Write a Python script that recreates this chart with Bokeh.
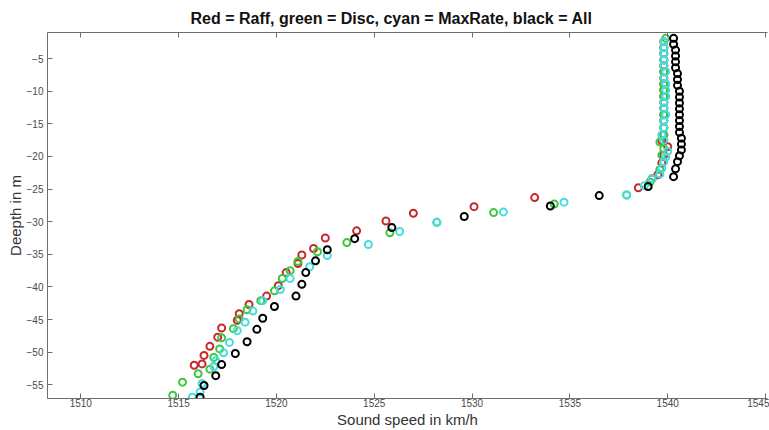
from bokeh.plotting import figure
from bokeh.models import Range1d, LinearAxis, FixedTicker
from bokeh.embed import file_html
from bokeh.resources import INLINE

# ---- data ----
x_ticks = [1510, 1515, 1520, 1525, 1530, 1535, 1540, 1545]
y_ticks = [-55, -50, -45, -40, -35, -30, -25, -20, -15, -10, -5]

raff_speed = [1539.8, 1539.8, 1539.8, 1539.8, 1539.8, 1539.8, 1539.8, 1539.8,
              1539.8, 1539.8, 1539.8, 1539.8, 1539.8, 1539.8, 1539.8, 1539.8,
              1539.7, 1540.0, 1539.8, 1539.7, 1539.5, 1539.2, 1538.5,
              1533.2, 1530.1, 1527.0, 1525.6, 1524.1, 1522.5, 1521.9, 1521.3,
              1521.1, 1520.5, 1520.1, 1519.5, 1518.6, 1518.1, 1518.0, 1517.2,
              1517.0, 1516.6, 1516.3, 1516.2, 1515.8]
raff_depth = [-2.4, -3.3, -4.2, -5.2, -6.1, -7.0, -8.0, -8.9,
              -9.8, -10.8, -11.7, -12.6, -13.6, -14.5, -15.6, -16.7,
              -17.6, -18.5, -19.8, -21.0, -22.8, -23.4, -24.8,
              -26.3, -27.7, -28.7, -29.9, -31.4, -32.5, -34.1, -35.1,
              -36.4, -37.8, -39.8, -41.4, -42.7, -44.1, -45.1, -46.3,
              -47.7, -49.1, -50.5, -51.8, -52.0]

disc_speed = [1539.9, 1539.8, 1539.8, 1539.8, 1539.8, 1539.8, 1539.8, 1539.8,
              1539.8, 1539.8, 1539.8, 1539.8, 1539.8, 1539.8, 1539.8, 1539.8,
              1539.6, 1539.8, 1539.7, 1539.6, 1539.1, 1537.9,
              1534.2, 1531.1, 1528.2, 1525.8, 1523.6, 1522.1, 1521.1, 1520.7,
              1520.3, 1519.9, 1519.2, 1518.5, 1518.1, 1517.8, 1517.2, 1517.1,
              1516.8, 1516.6, 1516.0, 1515.2, 1514.7]
disc_depth = [-1.9, -3.3, -4.2, -5.2, -6.1, -7.0, -8.0, -8.9,
              -9.8, -10.8, -11.7, -12.6, -13.6, -14.5, -15.6, -16.7,
              -17.8, -18.8, -19.8, -22.0, -23.9, -25.9,
              -27.3, -28.6, -30.1, -31.7, -33.2, -34.6, -36.1, -37.5,
              -38.7, -40.6, -42.1, -43.5, -44.9, -46.4, -47.8, -49.5,
              -50.8, -52.6, -53.3, -54.6, -56.6]

maxrate_speed = [1539.8, 1539.8, 1539.8, 1539.8, 1539.8, 1539.9, 1539.8, 1539.9,
                 1539.9, 1539.9, 1539.8, 1539.8, 1539.9, 1539.8, 1539.8, 1539.7,
                 1539.8, 1540.0, 1539.9, 1539.8, 1539.7, 1539.6, 1539.2, 1538.8, 1537.9,
                 1534.7, 1531.6, 1528.2, 1526.3, 1524.7, 1522.6, 1521.7, 1520.7,
                 1520.2, 1519.3, 1518.8, 1518.4, 1518.0, 1517.6, 1517.3, 1516.9,
                 1516.8, 1516.2, 1516.1, 1515.7]
maxrate_depth = [-2.4, -3.3, -4.2, -5.2, -6.1, -7.0, -8.0, -8.9,
                 -9.8, -10.8, -11.7, -12.6, -13.6, -14.5, -15.6, -16.7,
                 -17.5, -19.2, -20.1, -20.8, -21.8, -22.7, -23.4, -24.5, -25.9,
                 -27.0, -28.5, -30.1, -31.5, -33.5, -35.2, -36.9, -38.7,
                 -40.4, -42.1, -43.7, -45.4, -46.7, -48.5, -50.1, -51.3,
                 -52.2, -54.8, -56.1, -56.9]

all_speed = [1540.3, 1540.3, 1540.4, 1540.4, 1540.4, 1540.4, 1540.5, 1540.5,
             1540.5, 1540.6, 1540.6, 1540.6, 1540.6, 1540.6, 1540.6, 1540.6,
             1540.6, 1540.7, 1540.7, 1540.7, 1540.6, 1540.5, 1540.4, 1540.3,
             1539.0, 1536.5, 1534.0, 1529.6, 1525.9, 1524.0, 1522.6, 1522.0,
             1521.5, 1521.3, 1521.0, 1519.9, 1519.3, 1519.0, 1518.5, 1517.9,
             1517.2, 1516.9, 1516.3, 1516.1]
all_depth = [-1.9, -2.8, -3.7, -4.6, -5.5, -6.4, -7.3, -8.2,
             -9.1, -10.0, -10.9, -11.8, -12.7, -13.6, -14.5, -15.4,
             -16.3, -17.2, -18.1, -19.0, -19.9, -20.8, -21.9, -23.1,
             -24.6, -26.0, -27.6, -29.2, -30.9, -32.6, -34.3, -36.0,
             -37.8, -39.6, -41.4, -43.0, -44.8, -46.5, -48.4, -50.2,
             -51.9, -53.6, -55.1, -56.9]

series = [
    (raff_speed, raff_depth, "#c8282d"),
    (disc_speed, disc_depth, "#3cc83c"),
    (maxrate_speed, maxrate_depth, "#46dce0"),
    (all_speed, all_depth, "#000000"),
]

FONT = "Liberation Sans"
AXIS_COL = "#6e6e6e"
LABEL_COL = "#4a4a4a"

p = figure(width=769, height=430,
           x_range=Range1d(1508.3, 1545.1), y_range=Range1d(-57.1, -1.0),
           output_backend="svg", toolbar_location=None,
           min_border_left=47, min_border_right=2,
           min_border_top=32, min_border_bottom=32)
p.outline_line_color = None
p.grid.visible = False
p.background_fill_color = "white"
p.border_fill_color = "white"

p.title.text = "Red = Raff, green = Disc, cyan = MaxRate, black = All"
p.title.text_font = FONT
p.title.text_font_style = "bold"
p.title.text_font_size = "16px"
p.title.text_color = "#111111"
p.title.align = "left"
p.title.offset = 143
p.title.standoff = 12

for s, d, c in series:
    p.scatter(s, d, marker="circle", size=7, fill_color=None,
              line_color=c, line_width=2)

def style_axis(ax, show_labels=True):
    ax.axis_line_color = AXIS_COL
    ax.major_tick_line_color = AXIS_COL
    ax.minor_tick_line_color = None
    ax.major_tick_in = 5
    ax.major_tick_out = 0
    ax.major_label_text_font = FONT
    ax.major_label_text_font_size = "10px"
    ax.major_label_text_color = LABEL_COL if show_labels else None
    ax.axis_label_text_font = FONT
    ax.axis_label_text_font_style = "normal"
    ax.axis_label_text_font_size = "15px"
    ax.axis_label_text_color = "#333333"

xa = p.xaxis[0]
xa.ticker = FixedTicker(ticks=x_ticks)
xa.axis_label = "Sound speed in km/h"
style_axis(xa)
xa.major_label_standoff = 0
xa.axis_label_standoff = 1

ya = p.yaxis[0]
ya.ticker = FixedTicker(ticks=y_ticks)
ya.axis_label = "Deepth in m"
style_axis(ya)
ya.major_label_standoff = 4
ya.axis_label_standoff = 0

top = LinearAxis(ticker=FixedTicker(ticks=x_ticks))
style_axis(top, show_labels=False)
top.major_label_text_font_size = "1px"
top.major_label_standoff = 0
p.add_layout(top, "above")

open("out.html", "w").write(file_html(p, INLINE))
